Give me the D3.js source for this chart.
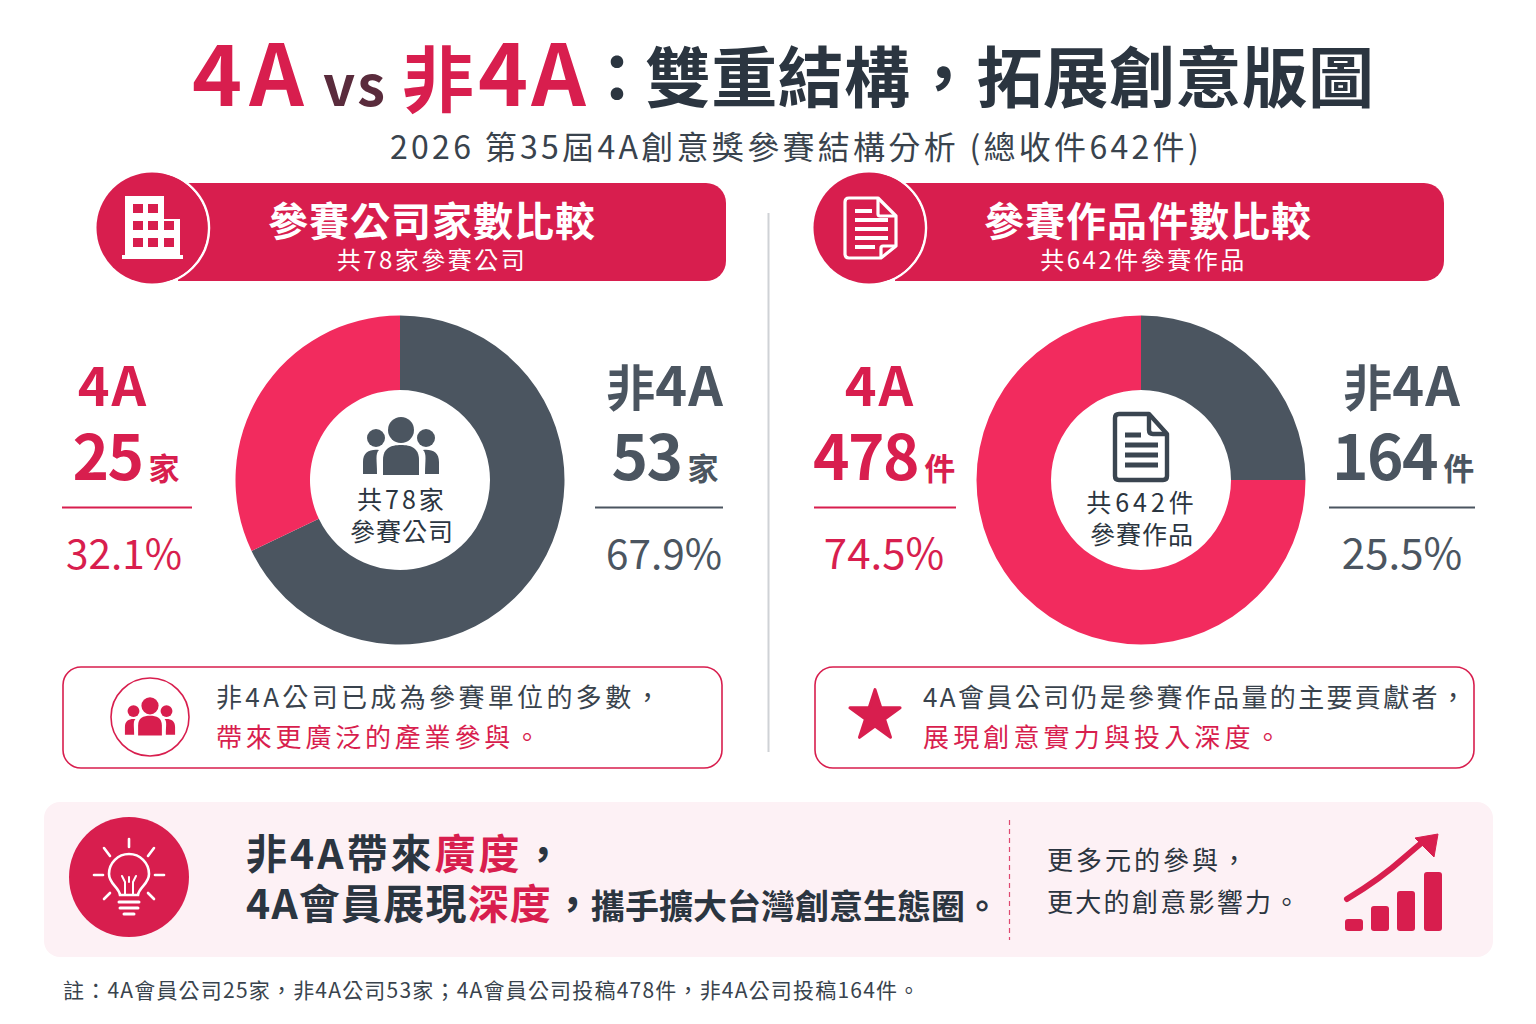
<!DOCTYPE html>
<html>
<head>
<meta charset="utf-8">
<script src="https://cdn.jsdelivr.net/npm/d3@7"></script>
<style>
  html, body { margin: 0; padding: 0; background: #fff; }
  svg { display: block; }
  text { font-family: "Noto Sans CJK TC", "Noto Sans", sans-serif; }
</style>
</head>
<body>
<script>
// values
const groups = ['非4A', '4A'];
const companyCounts = [53, 25];
const entryCounts = [164, 478];
const companyShares = ['67.9%', '32.1%'];
const entryShares = ['25.5%', '74.5%'];
// slice sizes as the picture draws them (the entries donut is a clean quarter)
const companySlices = [67.9, 32.1];
const entrySlices = [25, 75];

const RED = '#d81e4e', PINK = '#f22b5e', GREY = '#4b5560', INK = '#2b3540', TEXT = '#39434d';

const svg = d3.select('body').append('svg')
    .attr('width', 1536)
    .attr('height', 1024);

// one line of text made of coloured runs
function label(parent, x, y, runs, opt) {
    const t = parent.append('text')
        .attr('x', x)
        .attr('y', y)
        .attr('text-anchor', opt.anchor || 'middle')
        .attr('font-size', opt.size)
        .attr('font-weight', opt.weight || 400)
        .attr('letter-spacing', opt.spacing || 0)
        .attr('fill', opt.fill || INK);
    (Array.isArray(runs) ? runs : [runs]).forEach(r => {
        if (typeof r === 'string') { t.append('tspan').text(r); return; }
        t.append('tspan')
            .attr('x', r.x === undefined ? null : r.x)
            .attr('dx', r.dx || null)
            .attr('dy', r.dy || null)
            .attr('fill', r.fill || null)
            .attr('font-size', r.size || null)
            .attr('font-weight', r.weight || null)
            .attr('letter-spacing', r.spacing === undefined ? null : r.spacing)
            .text(r.text);
    });
    return t;
}

// ---------- title ----------
label(svg, 192, 106, [
    { text: '4A', fill: RED, size: 85, spacing: 7 },
    { text: 'vs', x: 323, fill: '#5a2b3c', size: 56, spacing: 2 },
    { text: '非', x: 402, fill: RED, size: 72 },
    { text: '4A', x: 478, fill: RED, size: 85, spacing: 3 },
    { text: '：', x: 584, dy: -4, fill: INK, size: 66 },
    { text: '雙重結構，拓展創意版圖', x: 645, fill: INK, size: 66, spacing: 0.3 }
], { anchor: 'start', size: 66, weight: 700 });

label(svg, 796, 159, '2026 第35屆4A創意獎參賽結構分析 (總收件642件)', { size: 32, fill: TEXT, spacing: 3.3 });

// ---------- icons, drawn around 0,0 ----------
function peopleIcon(g, fill, s) {
    const p = g.append('g').attr('transform', `scale(${s})`).attr('fill', fill);
    p.append('circle').attr('cx', 0).attr('cy', -20).attr('r', 13);
    p.append('circle').attr('cx', -25).attr('cy', -12).attr('r', 9);
    p.append('circle').attr('cx', 25).attr('cy', -12).attr('r', 9);
    p.append('path').attr('d', 'M-18 25V10C-18 -2 -10 -5 0 -5S18 -2 18 10V25Z');
    p.append('path').attr('d', 'M-38 24V12C-38 2 -31 -1 -22 0C-26 4 -24 10 -24 24Z');
    p.append('path').attr('d', 'M38 24V12C38 2 31 -1 22 0C26 4 24 10 24 24Z');
}
function docIcon(g, stroke, width) {
    const p = g.append('g')
        .attr('fill', 'none').attr('stroke', stroke).attr('stroke-width', width).attr('stroke-linejoin', 'round');
    p.append('path').attr('d', 'M-22 -33H8L26 -13V29Q26 33 22 33H-22Q-26 33 -26 29V-29Q-26 -33 -22 -33Z');
    p.append('path').attr('d', 'M8 -33V-17Q8 -13 12 -13H26');
    p.append('path').attr('d', 'M-16 -12H0M-16 -2H17M-16 8H17M-16 18H17').attr('stroke-width', width + 0.6);
}
function headerDocIcon(g) {
    const p = g.append('g')
        .attr('fill', 'none').attr('stroke', '#fff').attr('stroke-width', 3.2).attr('stroke-linejoin', 'round');
    p.append('path').attr('d', 'M-21 -30H8L26 -12V18L11 30H-21Q-25 30 -25 26V-26Q-25 -30 -21 -30Z');
    p.append('path').attr('d', 'M8 -30V-14Q8 -12 10 -12H26M26 18H13Q11 18 11 20V30');
    p.append('path').attr('d', 'M-15 -17H2M-15 -8H18M-15 1H18M-15 10H18M-15 19H5').attr('stroke-width', 4);
}
function buildingIcon(g) {
    g.append('path').attr('fill', '#fff').attr('fill-rule', 'evenodd').attr('d',
        'M-28 -32H11V-9H27V27H30V31H-31V27H-28Z' +
        'M-20 -24V-15H-10V-24ZM-5 -24V-15H5V-24Z' +
        'M-20 -7V2H-10V-7ZM-5 -7V2H5V-7ZM11 -7V2H21V-7Z' +
        'M-20 10V19H-10V10ZM-5 10V19H5V10ZM11 10V19H21V10Z');
}

// ---------- the two panels ----------
const panels = [
    {
        bar: [178, 726], cx: 153, title: '參賽公司家數比較', titleX: 432, sub: '共78家參賽公司', subX: 432,
        icon: buildingIcon, donutX: 400, counts: companyCounts, slices: companySlices, shares: companyShares, unit: '家',
        centre: ['共78家', '參賽公司'], centreX: 402, centreY: [509, 541], centreSpacing: [3, 1], pctSize: 40.5,
        left: { nameX: 113, numX: 126, ruleX: [62, 192], pctX: 124 },
        right: { nameX: 665, numX: 665, ruleX: [595, 723], pctX: 664 }
    },
    {
        bar: [895, 1444], cx: 870, title: '參賽作品件數比較', titleX: 1148, sub: '共642件參賽作品', subX: 1143.5,
        icon: headerDocIcon, donutX: 1141, counts: entryCounts, slices: entrySlices, shares: entryShares, unit: '件',
        centre: ['共642件', '參賽作品'], centreX: 1142, centreY: [512, 544], centreSpacing: [4, 1], pctSize: 42,
        left: { nameX: 880, numX: 884, ruleX: [814, 956], pctX: 884 },
        right: { nameX: 1402, numX: 1403, ruleX: [1329, 1475], pctX: 1402 }
    }
];

const pie = d3.pie().sort(null).value(d => d);
const arc = d3.arc().innerRadius(90).outerRadius(164.5);
const colour = d3.scaleOrdinal().domain(groups).range([GREY, PINK]);

panels.forEach(d => {
    // header band, square on the side that runs under the circle
    svg.append('rect')
        .attr('x', d.bar[0]).attr('y', 183)
        .attr('width', d.bar[1] - d.bar[0]).attr('height', 98)
        .attr('rx', 20)
        .attr('fill', RED);
    svg.append('rect')
        .attr('x', d.bar[0]).attr('y', 183)
        .attr('width', 40).attr('height', 98)
        .attr('fill', RED);
    svg.append('circle')
        .attr('cx', d.cx).attr('cy', 228).attr('r', 56)
        .attr('fill', RED).attr('stroke', '#fff').attr('stroke-width', 2.5);
    svg.append('circle')
        .attr('cx', d.cx - 1).attr('cy', 228).attr('r', 55.5)
        .attr('fill', RED);
    d.icon(svg.append('g').attr('transform', `translate(${d.cx},228)`));
    label(svg, d.titleX, 236, d.title, { size: 40, weight: 700, fill: '#fff', spacing: 1 });
    label(svg, d.subX, 269, d.sub, { size: 24, fill: '#fff', spacing: 2.5 });

    // donut
    const g = svg.append('g').attr('transform', `translate(${d.donutX},480)`);
    g.selectAll('path')
        .data(pie(d.slices))
        .join('path')
        .attr('d', arc)
        .attr('fill', (s, i) => colour(groups[i]));

    d.centre.forEach((line, i) => {
        label(svg, d.centreX, d.centreY[i], line, { size: 25, fill: INK, spacing: d.centreSpacing[i] });
    });

    // side figures
    [[d.right, 0], [d.left, 1]].forEach(([s, i]) => {
        const c = i ? RED : GREY;
        const name = i ? [{ text: '4A', size: 54, spacing: 2 }]
            : [{ text: '非', size: 49 }, { text: '4A', size: 54, spacing: 1 }];
        label(svg, s.nameX, 406, name, { size: 54, weight: 700, fill: c });
        label(svg, s.numX, 480, [
            { text: String(d.counts[i]), size: 62, spacing: -1.5 },
            { text: d.unit, size: 31, dx: 6, spacing: 0 }
        ], { size: 62, weight: 700, fill: c });
        svg.append('line')
            .attr('x1', s.ruleX[0]).attr('x2', s.ruleX[1])
            .attr('y1', 507.5).attr('y2', 507.5)
            .attr('stroke', c).attr('stroke-width', 2);
        label(svg, s.pctX, 569, d.shares[i], { size: d.pctSize, fill: c });
    });
});

// people icon in the donut centre, document icon in the other
peopleIcon(svg.append('g').attr('transform', 'translate(401,450)'), GREY, 1);
docIcon(svg.append('g').attr('transform', 'translate(1141,447)'), '#3a4550', 4.4);

// centre divider
svg.append('line')
    .attr('x1', 768.5).attr('x2', 768.5).attr('y1', 213).attr('y2', 752)
    .attr('stroke', '#cfd2d6').attr('stroke-width', 2);

// ---------- callout boxes ----------
const boxes = [
    { x: 63, w: 659, textX: 216, line1: '非4A公司已成為參賽單位的多數，', line2: '帶來更廣泛的產業參與。', spacing: [3.35, 3.8] },
    { x: 815, w: 659, textX: 923, line1: '4A會員公司仍是參賽作品量的主要貢獻者，', line2: '展現創意實力與投入深度。', spacing: [2.35, 4.15] }
];
boxes.forEach(b => {
    svg.append('rect')
        .attr('x', b.x).attr('y', 667)
        .attr('width', b.w).attr('height', 101)
        .attr('rx', 18)
        .attr('fill', '#fff').attr('stroke', RED).attr('stroke-width', 1.6);
    label(svg, b.textX, 707, b.line1, { anchor: 'start', size: 26, fill: TEXT, spacing: b.spacing[0] });
    label(svg, b.textX, 747, b.line2, { anchor: 'start', size: 26, fill: RED, spacing: b.spacing[1] });
});
svg.append('circle')
    .attr('cx', 150).attr('cy', 717).attr('r', 39)
    .attr('fill', '#fff').attr('stroke', RED).attr('stroke-width', 1.6);
peopleIcon(svg.append('g').attr('transform', 'translate(150,719)'), RED, 0.66);

const star = d3.symbol().type(d3.symbolStar).size(780);
svg.append('path')
    .attr('d', star())
    .attr('transform', 'translate(875,716)')
    .attr('fill', RED)
    .attr('stroke', RED).attr('stroke-width', 3).attr('stroke-linejoin', 'round');

// ---------- bottom band ----------
svg.append('rect')
    .attr('x', 44).attr('y', 802).attr('width', 1449).attr('height', 155)
    .attr('rx', 16).attr('fill', '#fdf1f5');

svg.append('circle').attr('cx', 129).attr('cy', 877).attr('r', 60).attr('fill', RED);
const bulb = svg.append('g').attr('transform', 'translate(129,875)')
    .attr('fill', 'none').attr('stroke', '#fff').attr('stroke-width', 2.6).attr('stroke-linecap', 'round');
bulb.append('path').attr('d', 'M-9 20C-10 12 -20 9 -20 -1A20 20 0 0 1 20 -1C20 9 10 12 9 20Z');
bulb.append('path').attr('d', 'M-4 20V7L-7 1M4 20V7L7 1M0 7V2').attr('stroke-width', 2);
bulb.append('path').attr('d', 'M-10 27H10M-9 33H9M-5 39H5').attr('stroke-width', 3);
[[0, -36, 0, -28], [-25, -27, -19, -19], [25, -27, 19, -19], [-35, 0, -26, 0], [35, 0, 26, 0], [-25, 24, -19, 18], [25, 24, 19, 18]]
    .forEach(r => bulb.append('line').attr('x1', r[0]).attr('y1', r[1]).attr('x2', r[2]).attr('y2', r[3]));

label(svg, 246, 869, ['非4A帶來', { text: '廣度', fill: RED }, '，'], { anchor: 'start', size: 41, weight: 700, spacing: 3 });
label(svg, 246, 919, ['4A會員展現', { text: '深度', fill: RED }, '，',
    { text: '攜手擴大台灣創意生態圈。', x: 591, size: 34, spacing: 0 }], { anchor: 'start', size: 41, weight: 700, spacing: 1.2 });

svg.append('line')
    .attr('x1', 1009.5).attr('x2', 1009.5).attr('y1', 820).attr('y2', 940)
    .attr('stroke', RED).attr('stroke-width', 1.2).attr('stroke-dasharray', '5 4').attr('opacity', 0.8);

label(svg, 1047, 870, '更多元的參與，', { anchor: 'start', size: 26, fill: INK, spacing: 3 });
label(svg, 1047, 912, '更大的創意影響力。', { anchor: 'start', size: 26, fill: INK, spacing: 2.3 });

// growth icon
const growth = svg.append('g').attr('transform', 'translate(1345,931)');
[[0, 12], [26, 25], [52, 40], [79, 59]].forEach(b => {
    growth.append('rect').attr('x', b[0]).attr('y', -b[1]).attr('width', 18).attr('height', b[1])
        .attr('rx', 3).attr('fill', RED);
});
growth.append('path')
    .attr('d', 'M2 -32C22 -44 42 -58 60 -74C68 -81 74 -86 80 -91')
    .attr('fill', 'none').attr('stroke', RED).attr('stroke-width', 6).attr('stroke-linecap', 'round');
growth.append('path').attr('d', 'M70 -93L93 -97L89 -74Z').attr('fill', RED)
    .attr('stroke', RED).attr('stroke-width', 1).attr('stroke-linejoin', 'round');

// ---------- footnote ----------
label(svg, 63, 998, '註：4A會員公司25家，非4A公司53家；4A會員公司投稿478件，非4A公司投稿164件。', { anchor: 'start', size: 21, fill: TEXT, spacing: 1.2 });
</script>
</body>
</html>
